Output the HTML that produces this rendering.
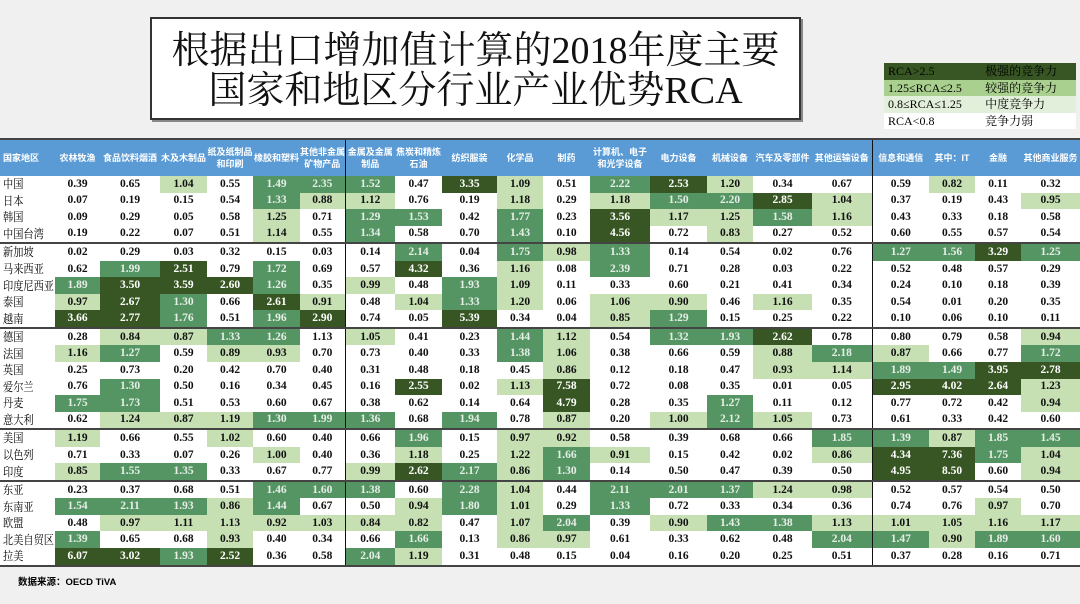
<!DOCTYPE html>
<html><head><meta charset="utf-8">
<style>
body{margin:0;width:1080px;height:604px;background:#f0f0f0;position:relative;overflow:hidden;font-family:"Liberation Serif","Noto Serif CJK SC",serif;}
.title{position:absolute;left:150px;top:17px;width:651px;height:103px;border:2px solid #333;box-shadow:2px 2px 0 #888;background:#fff;text-align:center;font-family:"Liberation Serif","Noto Serif CJK SC",serif;font-size:38px;line-height:40px;color:#111;padding-top:12px;box-sizing:border-box;white-space:nowrap;}
.legend{position:absolute;left:884px;top:63px;width:192px;border-collapse:collapse;font-size:12px;}
.legend td{height:16.5px;line-height:16px;padding:0 4px;font-family:"Liberation Serif","Noto Serif CJK SC",serif;white-space:nowrap;}
.tbl{position:absolute;left:0;top:138px;width:1080px;border-collapse:collapse;table-layout:fixed;border-top:2px solid #444;border-bottom:2px solid #444;}
.tbl thead th{background:#5b9bd5;color:#fff;font-family:"Liberation Sans","Noto Sans CJK SC",sans-serif;font-size:9px;font-weight:bold;height:36px;padding:0;line-height:12px;white-space:nowrap;overflow:hidden;}
.tbl tbody th{font-weight:normal;text-align:left;font-size:12px;line-height:16px;padding:0 0 0 3px;font-family:"Liberation Serif","Noto Serif CJK SC",serif;white-space:nowrap;overflow:hidden;background:#fff;height:16.55px;}
.tbl tbody th span{display:inline-block;transform:scaleX(0.85);transform-origin:left center;}
.tbl td{text-align:center;font-weight:bold;font-size:11.5px;padding:0;height:16.55px;line-height:15px;background:#fff;color:#111;overflow:hidden;}
.tbl td.l{background:#c6e0b4;}
.tbl td.m{background:#559564;color:#e6eee6;}
.tbl td.d{background:#375623;color:#fff;}
.tbl tr.g th,.tbl tr.g td{border-top:2px solid #444;}
.tbl .v{border-left:1.5px solid #111;}
.tbl tbody td:nth-child(8),.tbl tbody td:nth-child(18){border-left:1.5px solid #111;}
.src{position:absolute;left:18px;top:574px;font-size:9.5px;font-weight:bold;font-family:"Liberation Sans","Noto Sans CJK SC",sans-serif;}
</style></head><body>
<div class="title">根据出口增加值计算的2018年度主要<br>国家和地区分行业产业优势RCA</div>
<table class="legend">
<tr><td style="background:#375623">RCA&gt;2.5</td><td style="background:#375623">极强的竞争力</td></tr>
<tr><td style="background:#a9d08e">1.25≤RCA≤2.5</td><td style="background:#a9d08e">较强的竞争力</td></tr>
<tr><td style="background:#e2efda">0.8≤RCA≤1.25</td><td style="background:#e2efda">中度竞争力</td></tr>
<tr><td style="background:#fff">RCA&lt;0.8</td><td style="background:#fff">竞争力弱</td></tr>
</table>
<table class="tbl">
<colgroup><col style="width:55px"><col style="width:45px"><col style="width:60px"><col style="width:47px"><col style="width:46px"><col style="width:47px"><col style="width:45px"><col style="width:50px"><col style="width:47px"><col style="width:55px"><col style="width:46px"><col style="width:47px"><col style="width:60px"><col style="width:57px"><col style="width:46px"><col style="width:59px"><col style="width:60px"><col style="width:57px"><col style="width:46px"><col style="width:46px"><col style="width:59px"></colgroup>
<thead><tr><th style="text-align:left;padding-left:3px">国家地区</th><th>农林牧渔</th><th>食品饮料烟酒</th><th>木及木制品</th><th>纸及纸制品<br>和印刷</th><th>橡胶和塑料</th><th>其他非金属<br>矿物产品</th><th class="v">金属及金属<br>制品</th><th>焦炭和精炼<br>石油</th><th>纺织服装</th><th>化学品</th><th>制药</th><th>计算机、电子<br>和光学设备</th><th>电力设备</th><th>机械设备</th><th>汽车及零部件</th><th>其他运输设备</th><th class="v">信息和通信</th><th>其中：IT</th><th>金融</th><th>其他商业服务</th></tr></thead>
<tbody>
<tr><th><span>中国</span></th><td>0.39</td><td>0.65</td><td class="l">1.04</td><td>0.55</td><td class="m">1.49</td><td class="m">2.35</td><td class="m">1.52</td><td>0.47</td><td class="d">3.35</td><td class="l">1.09</td><td>0.51</td><td class="m">2.22</td><td class="d">2.53</td><td class="l">1.20</td><td>0.34</td><td>0.67</td><td>0.59</td><td class="l">0.82</td><td>0.11</td><td>0.32</td></tr>
<tr><th><span>日本</span></th><td>0.07</td><td>0.19</td><td>0.15</td><td>0.54</td><td class="m">1.33</td><td class="l">0.88</td><td class="l">1.12</td><td>0.76</td><td>0.19</td><td class="l">1.18</td><td>0.29</td><td class="l">1.18</td><td class="m">1.50</td><td class="m">2.20</td><td class="d">2.85</td><td class="l">1.04</td><td>0.37</td><td>0.19</td><td>0.43</td><td class="l">0.95</td></tr>
<tr><th><span>韩国</span></th><td>0.09</td><td>0.29</td><td>0.05</td><td>0.58</td><td class="l">1.25</td><td>0.71</td><td class="m">1.29</td><td class="m">1.53</td><td>0.42</td><td class="m">1.77</td><td>0.23</td><td class="d">3.56</td><td class="l">1.17</td><td class="l">1.25</td><td class="m">1.58</td><td class="l">1.16</td><td>0.43</td><td>0.33</td><td>0.18</td><td>0.58</td></tr>
<tr><th><span>中国台湾</span></th><td>0.19</td><td>0.22</td><td>0.07</td><td>0.51</td><td class="l">1.14</td><td>0.55</td><td class="m">1.34</td><td>0.58</td><td>0.70</td><td class="m">1.43</td><td>0.10</td><td class="d">4.56</td><td>0.72</td><td class="l">0.83</td><td>0.27</td><td>0.52</td><td>0.60</td><td>0.55</td><td>0.57</td><td>0.54</td></tr>
<tr class="g"><th><span>新加坡</span></th><td>0.02</td><td>0.29</td><td>0.03</td><td>0.32</td><td>0.15</td><td>0.03</td><td>0.14</td><td class="m">2.14</td><td>0.04</td><td class="m">1.75</td><td class="l">0.98</td><td class="m">1.33</td><td>0.14</td><td>0.54</td><td>0.02</td><td>0.76</td><td class="m">1.27</td><td class="m">1.56</td><td class="d">3.29</td><td class="m">1.25</td></tr>
<tr><th><span>马来西亚</span></th><td>0.62</td><td class="m">1.99</td><td class="d">2.51</td><td>0.79</td><td class="m">1.72</td><td>0.69</td><td>0.57</td><td class="d">4.32</td><td>0.36</td><td class="l">1.16</td><td>0.08</td><td class="m">2.39</td><td>0.71</td><td>0.28</td><td>0.03</td><td>0.22</td><td>0.52</td><td>0.48</td><td>0.57</td><td>0.29</td></tr>
<tr><th><span>印度尼西亚</span></th><td class="m">1.89</td><td class="d">3.50</td><td class="d">3.59</td><td class="d">2.60</td><td class="m">1.26</td><td>0.35</td><td class="l">0.99</td><td>0.48</td><td class="m">1.93</td><td class="l">1.09</td><td>0.11</td><td>0.33</td><td>0.60</td><td>0.21</td><td>0.41</td><td>0.34</td><td>0.24</td><td>0.10</td><td>0.18</td><td>0.39</td></tr>
<tr><th><span>泰国</span></th><td class="l">0.97</td><td class="d">2.67</td><td class="m">1.30</td><td>0.66</td><td class="d">2.61</td><td class="l">0.91</td><td>0.48</td><td class="l">1.04</td><td class="m">1.33</td><td class="l">1.20</td><td>0.06</td><td class="l">1.06</td><td class="l">0.90</td><td>0.46</td><td class="l">1.16</td><td>0.35</td><td>0.54</td><td>0.01</td><td>0.20</td><td>0.35</td></tr>
<tr><th><span>越南</span></th><td class="d">3.66</td><td class="d">2.77</td><td class="m">1.76</td><td>0.51</td><td class="m">1.96</td><td class="d">2.90</td><td>0.74</td><td>0.05</td><td class="d">5.39</td><td>0.34</td><td>0.04</td><td class="l">0.85</td><td class="m">1.29</td><td>0.15</td><td>0.25</td><td>0.22</td><td>0.10</td><td>0.06</td><td>0.10</td><td>0.11</td></tr>
<tr class="g"><th><span>德国</span></th><td>0.28</td><td class="l">0.84</td><td class="l">0.87</td><td class="m">1.33</td><td class="m">1.26</td><td>1.13</td><td class="l">1.05</td><td>0.41</td><td>0.23</td><td class="m">1.44</td><td class="l">1.12</td><td>0.54</td><td class="m">1.32</td><td class="m">1.93</td><td class="d">2.62</td><td>0.78</td><td>0.80</td><td>0.79</td><td>0.58</td><td class="l">0.94</td></tr>
<tr><th><span>法国</span></th><td class="l">1.16</td><td class="m">1.27</td><td>0.59</td><td class="l">0.89</td><td class="l">0.93</td><td>0.70</td><td>0.73</td><td>0.40</td><td>0.33</td><td class="m">1.38</td><td class="l">1.06</td><td>0.38</td><td>0.66</td><td>0.59</td><td class="l">0.88</td><td class="m">2.18</td><td class="l">0.87</td><td>0.66</td><td>0.77</td><td class="m">1.72</td></tr>
<tr><th><span>英国</span></th><td>0.25</td><td>0.73</td><td>0.20</td><td>0.42</td><td>0.70</td><td>0.40</td><td>0.31</td><td>0.48</td><td>0.18</td><td>0.45</td><td class="l">0.86</td><td>0.12</td><td>0.18</td><td>0.47</td><td class="l">0.93</td><td class="l">1.14</td><td class="m">1.89</td><td class="m">1.49</td><td class="d">3.95</td><td class="d">2.78</td></tr>
<tr><th><span>爱尔兰</span></th><td>0.76</td><td class="m">1.30</td><td>0.50</td><td>0.16</td><td>0.34</td><td>0.45</td><td>0.16</td><td class="d">2.55</td><td>0.02</td><td class="l">1.13</td><td class="d">7.58</td><td>0.72</td><td>0.08</td><td>0.35</td><td>0.01</td><td>0.05</td><td class="d">2.95</td><td class="d">4.02</td><td class="d">2.64</td><td class="l">1.23</td></tr>
<tr><th><span>丹麦</span></th><td class="m">1.75</td><td class="m">1.73</td><td>0.51</td><td>0.53</td><td>0.60</td><td>0.67</td><td>0.38</td><td>0.62</td><td>0.14</td><td>0.64</td><td class="d">4.79</td><td>0.28</td><td>0.35</td><td class="m">1.27</td><td>0.11</td><td>0.12</td><td>0.77</td><td>0.72</td><td>0.42</td><td class="l">0.94</td></tr>
<tr><th><span>意大利</span></th><td>0.62</td><td class="l">1.24</td><td class="l">0.87</td><td class="l">1.19</td><td class="m">1.30</td><td class="m">1.99</td><td class="m">1.36</td><td>0.68</td><td class="m">1.94</td><td>0.78</td><td class="l">0.87</td><td>0.20</td><td class="l">1.00</td><td class="m">2.12</td><td class="l">1.05</td><td>0.73</td><td>0.61</td><td>0.33</td><td>0.42</td><td>0.60</td></tr>
<tr class="g"><th><span>美国</span></th><td class="l">1.19</td><td>0.66</td><td>0.55</td><td class="l">1.02</td><td>0.60</td><td>0.40</td><td>0.66</td><td class="m">1.96</td><td>0.15</td><td class="l">0.97</td><td class="l">0.92</td><td>0.58</td><td>0.39</td><td>0.68</td><td>0.66</td><td class="m">1.85</td><td class="m">1.39</td><td class="l">0.87</td><td class="m">1.85</td><td class="m">1.45</td></tr>
<tr><th><span>以色列</span></th><td>0.71</td><td>0.33</td><td>0.07</td><td>0.26</td><td class="l">1.00</td><td>0.40</td><td>0.36</td><td class="l">1.18</td><td>0.25</td><td class="l">1.22</td><td class="m">1.66</td><td class="l">0.91</td><td>0.15</td><td>0.42</td><td>0.02</td><td class="l">0.86</td><td class="d">4.34</td><td class="d">7.36</td><td class="m">1.75</td><td class="l">1.04</td></tr>
<tr><th><span>印度</span></th><td class="l">0.85</td><td class="m">1.55</td><td class="m">1.35</td><td>0.33</td><td>0.67</td><td>0.77</td><td class="l">0.99</td><td class="d">2.62</td><td class="m">2.17</td><td class="l">0.86</td><td class="m">1.30</td><td>0.14</td><td>0.50</td><td>0.47</td><td>0.39</td><td>0.50</td><td class="d">4.95</td><td class="d">8.50</td><td>0.60</td><td class="l">0.94</td></tr>
<tr class="g"><th><span>东亚</span></th><td>0.23</td><td>0.37</td><td>0.68</td><td>0.51</td><td class="m">1.46</td><td class="m">1.60</td><td class="m">1.38</td><td>0.60</td><td class="m">2.28</td><td class="l">1.04</td><td>0.44</td><td class="m">2.11</td><td class="m">2.01</td><td class="m">1.37</td><td class="l">1.24</td><td class="l">0.98</td><td>0.52</td><td>0.57</td><td>0.54</td><td>0.50</td></tr>
<tr><th><span>东南亚</span></th><td class="m">1.54</td><td class="m">2.11</td><td class="m">1.93</td><td class="l">0.86</td><td class="m">1.44</td><td>0.67</td><td>0.50</td><td class="l">0.94</td><td class="m">1.80</td><td class="l">1.01</td><td>0.29</td><td class="m">1.33</td><td>0.72</td><td>0.33</td><td>0.34</td><td>0.36</td><td>0.74</td><td>0.76</td><td class="l">0.97</td><td>0.70</td></tr>
<tr><th><span>欧盟</span></th><td>0.48</td><td class="l">0.97</td><td class="l">1.11</td><td class="l">1.13</td><td class="l">0.92</td><td class="l">1.03</td><td class="l">0.84</td><td class="l">0.82</td><td>0.47</td><td class="l">1.07</td><td class="m">2.04</td><td>0.39</td><td class="l">0.90</td><td class="m">1.43</td><td class="m">1.38</td><td class="l">1.13</td><td class="l">1.01</td><td class="l">1.05</td><td class="l">1.16</td><td class="l">1.17</td></tr>
<tr><th><span>北美自贸区</span></th><td class="m">1.39</td><td>0.65</td><td>0.68</td><td class="l">0.93</td><td>0.40</td><td>0.34</td><td>0.66</td><td class="m">1.66</td><td>0.13</td><td class="l">0.86</td><td class="l">0.97</td><td>0.61</td><td>0.33</td><td>0.62</td><td>0.48</td><td class="m">2.04</td><td class="m">1.47</td><td class="l">0.90</td><td class="m">1.89</td><td class="m">1.60</td></tr>
<tr><th><span>拉美</span></th><td class="d">6.07</td><td class="d">3.02</td><td class="m">1.93</td><td class="d">2.52</td><td>0.36</td><td>0.58</td><td class="m">2.04</td><td class="l">1.19</td><td>0.31</td><td>0.48</td><td>0.15</td><td>0.04</td><td>0.16</td><td>0.20</td><td>0.25</td><td>0.51</td><td>0.37</td><td>0.28</td><td>0.16</td><td>0.71</td></tr>
</tbody></table>
<div class="src">数据来源：OECD TiVA</div>
</body></html>
